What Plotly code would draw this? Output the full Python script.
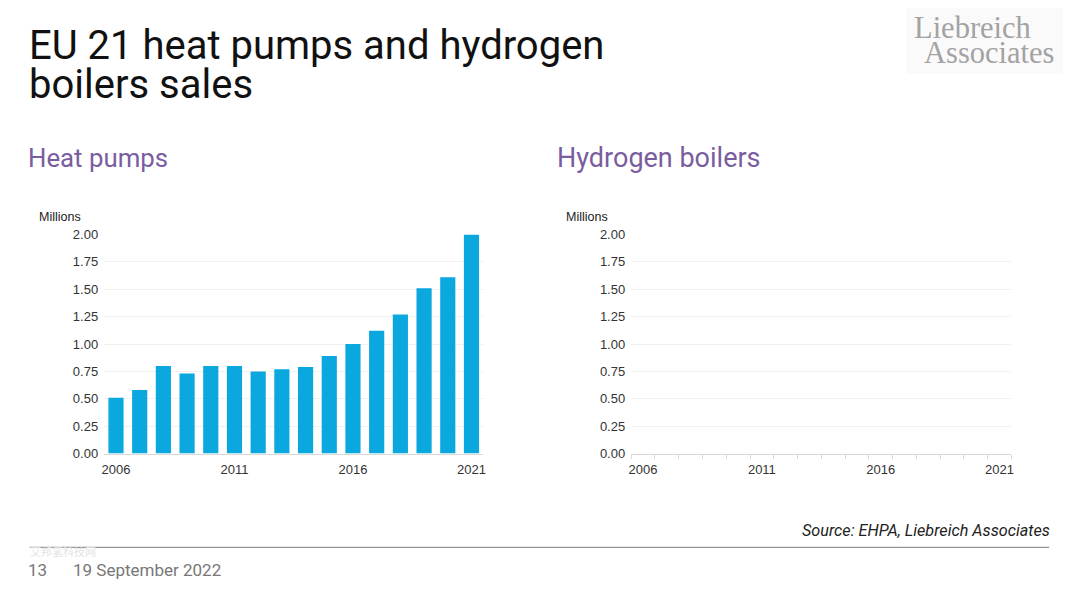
import plotly.graph_objects as go

# ---- data ----
years = list(range(2006, 2022))
heat_pump_sales = [0.51, 0.58, 0.80, 0.73, 0.80, 0.80, 0.75, 0.77, 0.79, 0.89,
                   1.00, 1.12, 1.27, 1.51, 1.61, 2.00]
hydrogen_boiler_sales = [0.0] * 16
y_ticks = [0, 0.25, 0.5, 0.75, 1.0, 1.25, 1.5, 1.75, 2.0]
y_tick_labels = ["0.00", "0.25", "0.50", "0.75", "1.00", "1.25", "1.50", "1.75", "2.00"]
x_ticks = [2006, 2011, 2016, 2021]

W, H = 1080, 591
BAR = "#0aa8df"
PURPLE = "#7a5d9f"
AXFONT = dict(family="Liberation Sans, Arial, sans-serif", size=13, color="#333333")


def px(x):
    return x / W


def py(y):
    # calibrated for the rendering's vertical mapping
    return 1 - ((y - 7.0) / 0.974) / H


fig = go.Figure()
fig.add_trace(go.Bar(x=years, y=heat_pump_sales, marker=dict(color=BAR, line=dict(width=0)),
                     width=0.64, xaxis="x", yaxis="y", showlegend=False))
fig.add_trace(go.Bar(x=years, y=hydrogen_boiler_sales, marker=dict(color=BAR, line=dict(width=0)),
                     width=0.64, xaxis="x2", yaxis="y2", showlegend=False))

ydom = [py(453.3), py(234.3)]


def xaxis(domain, anchor, minor):
    d = dict(domain=domain, anchor=anchor, range=[2005.5, 2021.5], tickmode="array",
             tickvals=x_ticks, ticktext=[str(v) for v in x_ticks], tickfont=AXFONT,
             showgrid=False, zeroline=False, showline=True, linecolor="#d9d9d9", linewidth=1,
             ticks="", ticklabelstandoff=4)
    if minor:
        d["minor"] = dict(tickmode="linear", tick0=2005.5, dtick=1, ticks="outside",
                          ticklen=4, tickcolor="#d9d9d9", tickwidth=1, showgrid=False)
    return d


def yaxis(anchor):
    return dict(domain=ydom, anchor=anchor, range=[0, 2.0], tickmode="array",
                tickvals=y_ticks, ticktext=y_tick_labels, tickfont=AXFONT,
                showgrid=True, gridcolor="#f0f0f0", gridwidth=1, zeroline=False,
                showline=False, ticks="", ticklabelstandoff=5)


fig.update_layout(
    width=W, height=H, margin=dict(l=0, r=0, t=0, b=0),
    paper_bgcolor="white", plot_bgcolor="white", bargap=0.36,
    xaxis=xaxis([px(101.7), px(483)], "y", False),
    yaxis=yaxis("x"),
    xaxis2=xaxis([px(631.7), px(1014)], "y2", True),
    yaxis2=yaxis("x2"),
)

ann = []
TITLE = dict(family="Roboto, sans-serif", size=40, color="#111111")
ann.append(dict(text="EU 21 heat pumps and hydrogen", x=px(24), y=py(71), xanchor="left",
                yanchor="bottom", font=TITLE))
ann.append(dict(text="boilers sales", x=px(24), y=py(110), xanchor="left",
                yanchor="bottom", font=TITLE))
ann.append(dict(text="Heat pumps", x=px(23), y=py(158), xanchor="left", yanchor="middle",
                font=dict(family="Roboto, sans-serif", size=25.8, color=PURPLE)))
ann.append(dict(text="Hydrogen boilers", x=px(555), y=py(158), xanchor="left", yanchor="middle",
                font=dict(family="Roboto, sans-serif", size=27, color=PURPLE)))
MIL = dict(family="Liberation Sans, Arial, sans-serif", size=12.5, color="#222222")
ann.append(dict(text="Millions", x=px(34), y=py(217), xanchor="left", yanchor="middle", font=MIL))
ann.append(dict(text="Millions", x=px(564), y=py(217), xanchor="left", yanchor="middle", font=MIL))
LOGO = dict(family="Liberation Serif, DejaVu Serif, serif", size=30.5, color="#a3a3a3")
ann.append(dict(text="Liebreich", x=px(914), y=py(28), xanchor="left", yanchor="middle", font=LOGO))
ann.append(dict(text="Associates", x=px(924), y=py(53), xanchor="left", yanchor="middle", font=LOGO))
ann.append(dict(text="<i>Source: EHPA, Liebreich Associates</i>", x=px(1055), y=py(530),
                xanchor="right", yanchor="middle",
                font=dict(family="Roboto, sans-serif", size=16.2, color="#222222")))
FOOT = dict(family="Roboto, sans-serif", size=17, color="#777777")
ann.append(dict(text="13", x=px(23), y=py(570), xanchor="left", yanchor="middle", font=FOOT))
ann.append(dict(text="19 September 2022", x=px(68), y=py(570), xanchor="left", yanchor="middle", font=FOOT))
ann.append(dict(text="艾邦氢科技网", x=px(25), y=py(551), xanchor="left", yanchor="middle",
                font=dict(family="Noto Sans CJK SC, sans-serif", size=11, color="#e3e3e3")))
for a in ann:
    a.update(xref="paper", yref="paper", showarrow=False)
fig.update_layout(annotations=ann)

fig.add_shape(type="rect", xref="paper", yref="paper", x0=px(908), x1=px(1066), y0=py(74), y1=py(8),
              fillcolor="#fafafa", line=dict(width=0), layer="below")
fig.add_shape(type="line", xref="paper", yref="paper", x0=px(27), x1=px(1052), y0=py(547), y1=py(547),
              line=dict(color="#959595", width=1.2))

fig.write_html("out.html", config={"displayModeBar": False},
               post_script="document.body.style.margin='0px';")
